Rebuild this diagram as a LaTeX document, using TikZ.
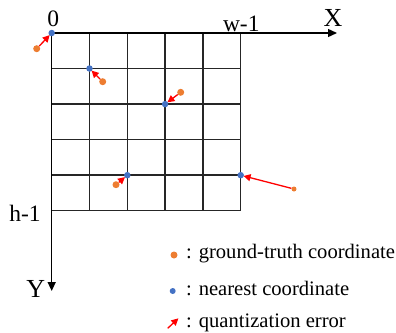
\documentclass[tikz,border=0pt]{standalone}
\usepackage{fontspec}
\setmainfont{Liberation Serif}
\usetikzlibrary{arrows.meta}
\definecolor{gtorange}{HTML}{ED7D31}
\definecolor{nnblue}{HTML}{4472C4}
\begin{document}
\begin{tikzpicture}[x=1bp,y=-1bp,
  gridline/.style={line width=1.4bp,draw=black!85},
  axisline/.style={line width=1.4bp,draw=black,-{Triangle[length=9bp,width=8bp]}},
  gt/.style={circle,fill=gtorange,inner sep=0pt,minimum size=7bp},
  nn/.style={circle,fill=nnblue,inner sep=0pt,minimum size=6.5bp},
  qerr/.style={line width=1.3bp,draw=red,-{Triangle[length=7bp,width=7bp]},shorten >=-0.5bp},
  axlab/.style={font=\fontsize{23.5bp}{25bp}\selectfont,anchor=base,inner sep=0pt},
  biglab/.style={font=\fontsize{26bp}{28bp}\selectfont,anchor=base,inner sep=0pt},
  leg/.style={font=\fontsize{20.6bp}{22bp}\selectfont,anchor=base west,inner sep=0pt}]
\useasboundingbox (0,0) rectangle (396,333);
% grid
\foreach \i in {1,...,5} {
  \draw[gridline] ({51.7+\i*37.8},33) -- ({51.7+\i*37.8},210.7);
}
\foreach \j in {1,...,5} {
  \draw[gridline] (51.7,{33+\j*35.54}) -- (240.7,{33+\j*35.54});
}
% axes
\coordinate (orig) at (51.7,33);
\coordinate (xend) at (337,33);
\coordinate (yend) at (51.7,291);
\draw[axisline] (orig) -- (xend);
\draw[axisline] (orig) -- (yend);
% labels
\node[axlab] (l0) at (53.3,26.7) {0};
\node[axlab] (lw) at (241.3,31.7) {w-1};
\node[biglab] (lx) at (333,26.7) {X};
\node[axlab] (lh) at (25,221.7) {h-1};
\node[biglab] (ly) at (35.8,297.3) {Y};
% points
\node[nn] (b1) at (51.7,33) {};
\node[gt] (o1) at (36.7,48.7) {};
\node[nn] (b2) at (89.5,68.5) {};
\node[gt] (o2) at (102.7,81.7) {};
\node[nn] (b3) at (165.1,104.1) {};
\node[gt] (o3) at (180.7,92.3) {};
\node[nn] (b4) at (127.3,175.2) {};
\node[gt] (o4) at (116,184.7) {};
\node[nn] (b5) at (240.7,175.2) {};
\node[gt,minimum size=5bp] (o5) at (294,189) {};
\draw[qerr] (o1) -- (b1);
\draw[qerr] (o2) -- (b2);
\draw[qerr] (o3) -- (b3);
\draw[qerr] (o4) -- (b4);
\draw[qerr] (o5) -- (b5);
% legend
\node[gt] (lgo) at (174,255) {};
\node[leg] (lgot) at (186,258.3) {: ground-truth coordinate};
\node[nn,minimum size=6bp] (lgb) at (172.7,291) {};
\node[leg] (lgbt) at (186,295) {: nearest coordinate};
\coordinate (lga) at (167.7,328.3);
\coordinate (lgb2) at (178,318.7);
\draw[qerr] (lga) -- (lgb2);
\node[leg] (lgat) at (186,327) {: quantization error};
\end{tikzpicture}
\end{document}
